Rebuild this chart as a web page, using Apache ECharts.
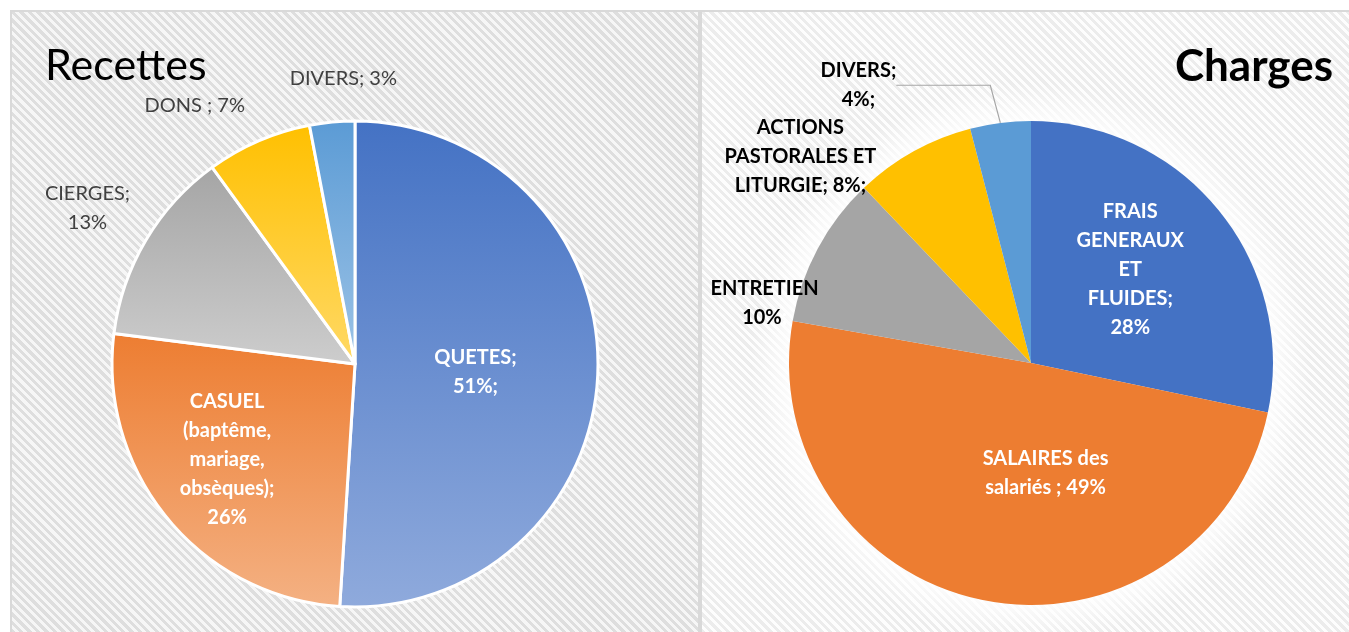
<!DOCTYPE html>
<html>
<head>
<meta charset="utf-8">
<script src="https://cdn.jsdelivr.net/npm/echarts@6/dist/echarts.min.js"></script>
<style>
  html, body { margin: 0; padding: 0; background: #fff; }
  body { width: 1349px; height: 632px; position: relative; overflow: hidden; }
  .panel { position: absolute; top: 10px; height: 640px; box-sizing: border-box; }
  #left { left: 10px; width: 690px; border: 2px solid #d9d9d9; border-bottom: none;
    background: repeating-linear-gradient(45deg, #dedede 0 3px, #f6f6f6 3px 6px); }
  #right { left: 700px; width: 660px; border-top: 2px solid #d9d9d9; border-left: 2px solid #d9d9d9;
    background:
      radial-gradient(circle at 329px 351px, rgba(255,255,255,0.95) 236px, rgba(255,255,255,0) 280px),
      repeating-linear-gradient(45deg, #ececec 0 3px, #fdfdfd 3px 6px); }
  #chart { position: absolute; left: 0; top: 0; width: 1349px; height: 632px; }
</style>
</head>
<body>
<div id="left" class="panel"></div>
<div id="right" class="panel"></div>
<div id="chart"></div>
<script>
// Recettes
const recNames = ['QUETES', 'CASUEL', 'CIERGES', 'DONS', 'DIVERS']
const recValues = [51, 26, 13, 7, 3]
const recLabels = ['QUETES;\n{v}%;', 'CASUEL\n(baptême,\nmariage,\nobsèques);\n{v}%', 'CIERGES;\n{v}%', 'DONS ; {v}%', 'DIVERS; {v}%']

// Charges
const chgNames = ['FRAIS GENERAUX ET FLUIDES', 'SALAIRES des salariés', 'ENTRETIEN', 'ACTIONS PASTORALES ET LITURGIE', 'DIVERS']
const chgValues = [28, 49, 10, 8, 4]
const chgLabels = ['FRAIS\nGENERAUX\nET\nFLUIDES;\n{v}%', 'SALAIRES des\nsalariés ; {v}%', 'ENTRETIEN\n{v}%{w|;}', 'ACTIONS\nPASTORALES ET\nLITURGIE; {v}%;', 'DIVERS;\n{v}%;']

const colTop = ['#4472C4', '#ED7D31', '#A5A5A5', '#FFC000', '#5B9BD5']
const colBottom = ['#8FAADC', '#F4B183', '#CDCDCD', '#FFD966', '#9DC3E6']

const font = 'Lato, "Open Sans", sans-serif'
const chart = echarts.init(document.getElementById('chart'), null, { renderer: 'canvas' })

// outside labels: [length, length2] of the (hidden) label line
const recOut = { 2: [30, 0], 3: [39, 0], 4: [44, -74] }
const chgOut = { 2: [0, 0], 3: [0, 28], 4: [40, 94] }
// small nudges of label centres, Excel places them a bit differently
const recNudge = [[-4, 4], [-32, 16], [15, -17], [7, 0], [0, 0]]
const chgNudge = [[3, -15], [38, -12], [6, 54], [-4, 5], [0, 2]]

const nudged = nudge => p => {
  const r = p.labelRect, n = nudge[p.dataIndex]
  return { x: r.x + r.width / 2 + n[0], y: r.y + r.height / 2 + n[1],
    align: 'center', verticalAlign: 'middle', hideOverlap: false }
}

const recData = recValues.map((v, i) => {
  const outside = recOut[i]
  return {
    name: recNames[i], value: v,
    itemStyle: { color: new echarts.graphic.LinearGradient(0, 0, 0, 1, [
      { offset: 0, color: colTop[i] }, { offset: 1, color: colBottom[i] }]) },
    label: outside
      ? { position: 'outside', color: '#404040', fontWeight: 'normal' }
      : { position: 'inside', color: '#fff', fontWeight: 'bold' },
    labelLine: outside ? { show: false, length: outside[0], length2: outside[1] } : { show: false }
  }
})

const chgData = chgValues.map((v, i) => {
  const outside = chgOut[i]
  return {
    name: chgNames[i], value: v,
    itemStyle: { color: colTop[i] },
    label: outside
      ? { position: 'outside', color: '#000' }
      : { position: 'inside', color: '#fff' },
    labelLine: outside
      ? { show: i === 4, length: outside[0], length2: outside[1], lineStyle: { color: '#a6a6a6', width: 1.2 } }
      : { show: false }
  }
})

chart.setOption({
  animation: false,
  title: [
    { text: 'Recettes', left: 40, top: 40,
      textStyle: { fontFamily: font, fontSize: 43, fontWeight: 'normal', color: '#000' } },
    { text: 'Charges', right: 11, top: 40,
      textStyle: { fontFamily: font, fontSize: 44, fontWeight: 'bold', color: '#000' } }
  ],
  series: [
    {
      type: 'pie', center: [355, 364], radius: 243, startAngle: 90, clockwise: true,
      avoidLabelOverlap: false,
      itemStyle: { borderColor: '#fff', borderWidth: 3 },
      label: { fontFamily: font, fontSize: 20, lineHeight: 29,
        formatter: p => recLabels[p.dataIndex].replace('{v}', p.value) },
      labelLayout: nudged(recNudge),
      emphasis: { disabled: true },
      data: recData
    },
    {
      type: 'pie', center: [1031, 363], radius: 242, startAngle: 90, clockwise: true,
      avoidLabelOverlap: false,
      itemStyle: { borderWidth: 0 },
      label: { fontFamily: font, fontSize: 20, lineHeight: 29, fontWeight: 'bold',
        formatter: p => chgLabels[p.dataIndex].replace('{v}', p.value),
        rich: { w: { color: '#fff', fontFamily: font, fontSize: 20, fontWeight: 'bold', lineHeight: 29 } } },
      labelLayout: nudged(chgNudge),
      emphasis: { disabled: true },
      data: chgData
    }
  ]
})
window.addEventListener('resize', () => chart.resize())
</script>
</body>
</html>
